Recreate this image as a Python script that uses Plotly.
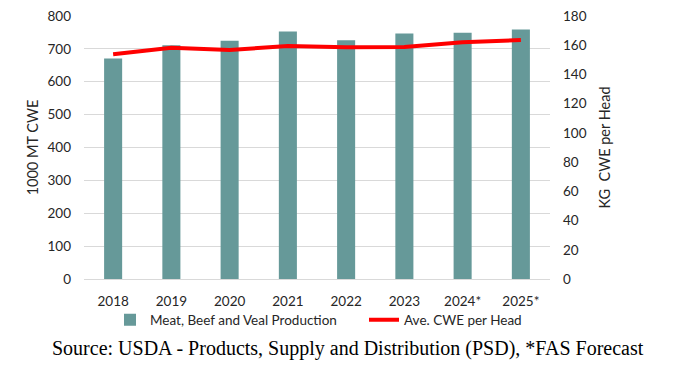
import plotly.graph_objects as go

years = ["2018", "2019", "2020", "2021", "2022", "2023", "2024*", "2025*"]
production = [671, 711, 725, 753, 726, 747, 749, 759]
cwe_per_head = [153.8, 158.3, 156.7, 159.5, 158.6, 158.8, 162.0, 163.6]

font_family = "Lato, 'Open Sans', sans-serif"
txt = "#262626"
# page body has an 8px default margin, so the figure is drawn at (8, 8)
W, H = 665, 364
L, R, T, B = 76, 123, 8, 93
PW = W - L - R

fig = go.Figure()
fig.add_trace(go.Bar(
    x=years, y=production, name="Meat, Beef and Veal Production",
    marker=dict(color="#669999", line=dict(width=0)), width=0.31,
    legend="legend",
))
fig.add_trace(go.Scatter(
    x=years, y=cwe_per_head, name="Ave. CWE per Head", yaxis="y2",
    mode="lines", line=dict(color="#ff0000", width=4),
    legend="legend2",
))

leg_common = dict(orientation="h", xanchor="left", yref="container", yanchor="middle",
                  y=1 - 312 / H, font=dict(size=13.5), bgcolor="rgba(0,0,0,0)")

fig.update_layout(
    width=W, height=H,
    margin=dict(l=L, r=R, t=T, b=B, autoexpand=False),
    paper_bgcolor="white", plot_bgcolor="white",
    font=dict(family=font_family, size=13, color=txt),
    xaxis=dict(showgrid=False, showline=True, linecolor="#d9d9d9", linewidth=1,
               ticks="", ticklabelstandoff=10, automargin=False,
               tickfont=dict(size=13.5)),
    yaxis=dict(range=[0, 800], dtick=100, showgrid=True, gridcolor="#d9d9d9",
               gridwidth=1, zeroline=False, ticks="", ticklabelstandoff=12,
               automargin=False, tickfont=dict(size=13.5), ticklabeloverflow="allow",
               title=dict(text="1000 MT CWE", standoff=5, font=dict(size=14.5))),
    yaxis2=dict(range=[0, 180], dtick=20, overlaying="y", side="right",
                showgrid=False, zeroline=False, ticks="", ticklabelstandoff=12,
                automargin=False, tickfont=dict(size=13.5), ticklabeloverflow="allow",
                title=dict(text="KG\u00a0\u00a0CWE per Head", standoff=14, font=dict(size=14.5))),
    legend=dict(x=(110 - 84) / PW, **leg_common),
    legend2=dict(x=(364 - 84) / PW, **leg_common),
    showlegend=True,
    annotations=[dict(
        text="Source: USDA - Products, Supply and Distribution (PSD), *FAS Forecast",
        x=(340 - L) / PW, xref="paper", xanchor="center",
        y=(H - B - 340) / (H - T - B), yref="paper", yanchor="middle", showarrow=False,
        font=dict(family="'Liberation Serif', 'Times New Roman', serif", size=20, color="#000000"),
    )],
)

fig.write_html("out.html")
